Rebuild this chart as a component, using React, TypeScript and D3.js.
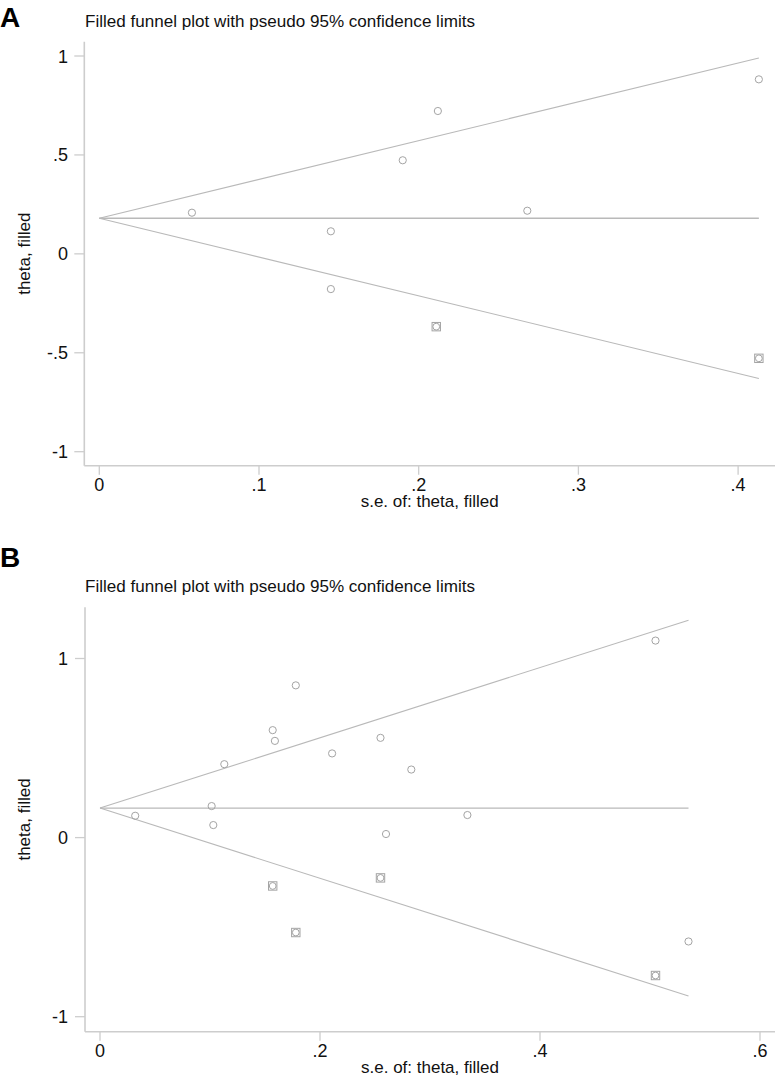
import React from "react";
import * as d3 from "d3";

// ---------- Data ----------
// Panel A
const A_OBS_SE = [0.058, 0.145, 0.145, 0.19, 0.212, 0.268, 0.413];
const A_OBS_THETA = [0.208, 0.114, -0.178, 0.473, 0.722, 0.218, 0.882];
const A_FILL_SE = [0.211, 0.413];
const A_FILL_THETA = [-0.368, -0.528];
const A_LINE_SE = [0, 0.413];
const A_LINE_UPPER = [0.18, 0.99];
const A_LINE_CENTER = [0.18, 0.18];
const A_LINE_LOWER = [0.18, -0.63];
const A_XTICKS = [0, 0.1, 0.2, 0.3, 0.4];
const A_YTICKS = [1, 0.5, 0, -0.5, -1];

// Panel B
const B_OBS_SE = [0.032, 0.1015, 0.103, 0.113, 0.157, 0.159, 0.178, 0.211, 0.255, 0.283, 0.26, 0.334, 0.505, 0.535];
const B_OBS_THETA = [0.122, 0.176, 0.07, 0.41, 0.6, 0.54, 0.85, 0.47, 0.557, 0.38, 0.02, 0.126, 1.1, -0.58];
const B_FILL_SE = [0.157, 0.178, 0.255, 0.505];
const B_FILL_THETA = [-0.27, -0.53, -0.225, -0.77];
const B_LINE_SE = [0, 0.535];
const B_LINE_UPPER = [0.165, 1.214];
const B_LINE_CENTER = [0.165, 0.165];
const B_LINE_LOWER = [0.165, -0.884];
const B_XTICKS = [0, 0.2, 0.4, 0.6];
const B_YTICKS = [1, 0, -1];

const TITLE = "Filled funnel plot with pseudo 95% confidence limits";
const X_TITLE = "s.e. of: theta, filled";
const Y_TITLE = "theta, filled";

const fmt = (v: number) => {
  if (v === 0) return "0";
  const s = String(v);
  return s.replace(/^0\./, ".").replace(/^-0\./, "-.");
};

const FONT = "'Liberation Sans', Arial, Helvetica, sans-serif";
const AXIS_COLOR = "#cdcdcd";
const LINE_COLOR = "#b9b9b9";
const MARK_COLOR = "#a4a4a4";

type PanelCfg = {
  letter: string;
  offY: number;
  letterY: number;
  obsSe: number[];
  obsTheta: number[];
  fillSe: number[];
  fillTheta: number[];
  lineSe: number[];
  upper: number[];
  center: number[];
  lower: number[];
  xTicks: number[];
  yTicks: number[];
  xDomain: [number, number];
  xRange: [number, number];
  yRange: [number, number];
  axisX: number;
  axisTop: number;
  axisBottom: number;
};

function Panel({ c }: { c: PanelCfg }) {
  const x = d3.scaleLinear().domain(c.xDomain).range(c.xRange);
  const y = d3.scaleLinear().domain([-1, 1]).range(c.yRange);
  const line = d3
    .line<number>()
    .x((_, i) => x(c.lineSe[i]))
    .y((d) => y(d));
  const rightEdge = 775;
  const yMid = (c.axisTop + c.axisBottom) / 2;
  const xMid = (c.axisX + rightEdge) / 2;
  return (
    <g>
      <text x={0} y={c.letterY} fontFamily={FONT} fontWeight="bold" fontSize={28} fill="#000">
        {c.letter}
      </text>
      <text x={85} y={c.offY + 26.5} fontFamily={FONT} fontSize={17} fill="#111" textLength={390} lengthAdjust="spacingAndGlyphs">
        {TITLE}
      </text>
      {/* axes */}
      <line x1={c.axisX} x2={c.axisX} y1={c.axisTop} y2={c.axisBottom} stroke={AXIS_COLOR} strokeWidth={1.6} />
      <line x1={c.axisX} x2={rightEdge} y1={c.axisBottom} y2={c.axisBottom} stroke={AXIS_COLOR} strokeWidth={1.6} />
      {c.yTicks.map((t) => (
        <g key={"y" + t}>
          <line x1={c.axisX - 10} x2={c.axisX} y1={y(t)} y2={y(t)} stroke={AXIS_COLOR} strokeWidth={1.3} />
          <text x={68} y={y(t)} dy={6.5} textAnchor="end" fontFamily={FONT} fontSize={18} fill="#111">
            {fmt(t)}
          </text>
        </g>
      ))}
      {c.xTicks.map((t) => (
        <g key={"x" + t}>
          <line x1={x(t)} x2={x(t)} y1={c.axisBottom} y2={c.axisBottom + 9} stroke={AXIS_COLOR} strokeWidth={1.3} />
          <text x={x(t)} y={c.axisBottom + 25} textAnchor="middle" fontFamily={FONT} fontSize={18} fill="#111">
            {fmt(t)}
          </text>
        </g>
      ))}
      <text x={xMid} y={c.axisBottom + 41.5} textAnchor="middle" fontFamily={FONT} fontSize={17} fill="#111">
        {X_TITLE}
      </text>
      <text
        transform={`translate(30,${yMid}) rotate(-90)`}
        textAnchor="middle"
        fontFamily={FONT}
        fontSize={17}
        fill="#111"
      >
        {Y_TITLE}
      </text>
      {/* funnel lines */}
      <path d={line(c.upper) || ""} fill="none" stroke={LINE_COLOR} strokeWidth={1.1} />
      <path d={line(c.lower) || ""} fill="none" stroke={LINE_COLOR} strokeWidth={1.1} />
      <path d={line(c.center) || ""} fill="none" stroke={LINE_COLOR} strokeWidth={1.3} />
      {/* markers */}
      {c.obsSe.map((s, i) => (
        <circle key={"o" + i} cx={x(s)} cy={y(c.obsTheta[i])} r={3.6} fill="none" stroke={MARK_COLOR} strokeWidth={1} />
      ))}
      {c.fillSe.map((s, i) => (
        <g key={"f" + i}>
          <circle cx={x(s)} cy={y(c.fillTheta[i])} r={3.4} fill="none" stroke={MARK_COLOR} strokeWidth={1} />
          <rect x={x(s) - 4.2} y={y(c.fillTheta[i]) - 4.2} width={8.4} height={8.4} fill="none" stroke={MARK_COLOR} strokeWidth={1} />
        </g>
      ))}
    </g>
  );
}

const panelA: PanelCfg = {
  letter: "A",
  offY: 0,
  letterY: 27,
  obsSe: A_OBS_SE,
  obsTheta: A_OBS_THETA,
  fillSe: A_FILL_SE,
  fillTheta: A_FILL_THETA,
  lineSe: A_LINE_SE,
  upper: A_LINE_UPPER,
  center: A_LINE_CENTER,
  lower: A_LINE_LOWER,
  xTicks: A_XTICKS,
  yTicks: A_YTICKS,
  xDomain: [0, 0.4],
  xRange: [99.3, 738.1],
  yRange: [451.7, 56],
  axisX: 84.3,
  axisTop: 41.7,
  axisBottom: 465.7,
};

const panelB: PanelCfg = {
  letter: "B",
  offY: 565.5,
  letterY: 567,
  obsSe: B_OBS_SE,
  obsTheta: B_OBS_THETA,
  fillSe: B_FILL_SE,
  fillTheta: B_FILL_THETA,
  lineSe: B_LINE_SE,
  upper: B_LINE_UPPER,
  center: B_LINE_CENTER,
  lower: B_LINE_LOWER,
  xTicks: B_XTICKS,
  yTicks: B_YTICKS,
  xDomain: [0, 0.6],
  xRange: [100, 760],
  yRange: [1016.7, 658.5],
  axisX: 85,
  axisTop: 607.2,
  axisBottom: 1031.7,
};

export default function App() {
  return (
    <svg
      width={775}
      height={1076}
      viewBox="0 0 775 1076"
      style={{ position: "absolute", left: 0, top: 0, background: "#fff" }}
    >
      <rect width={775} height={1076} fill="#fff" />
      <Panel c={panelA} />
      <Panel c={panelB} />
    </svg>
  );
}
